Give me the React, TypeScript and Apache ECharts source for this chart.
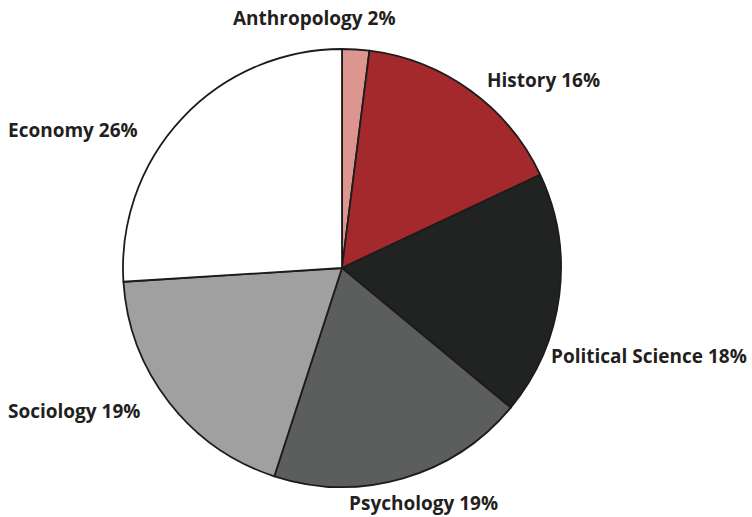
import React, { useEffect, useRef } from "react";
import * as echarts from "echarts";

const categories = ["Anthropology", "History", "Political Science", "Psychology", "Sociology", "Economy"];
const values = [2, 16, 18, 19, 19, 26];
const colors = ["#dc968f", "#a4292d", "#212322", "#5c5e5d", "#a0a0a0", "#ffffff"];
// label anchor (left edge, vertical middle) in px
const labelAnchors: [number, number][] = [
  [233, 18],
  [487, 80],
  [551, 356],
  [349, 503],
  [8, 411],
  [8, 130],
];

export default function App() {
  const ref = useRef<HTMLDivElement>(null);
  useEffect(() => {
    document.body.style.margin = "0";
    const chart = echarts.init(ref.current!, null, { renderer: "svg" });
    chart.setOption({
      animation: false,
      backgroundColor: "#ffffff",
      series: [
        {
          type: "pie",
          center: [342, 268],
          radius: 219,
          startAngle: 90,
          clockwise: true,
          data: categories.map((c, i) => ({
            name: c,
            value: values[i],
            itemStyle: { color: colors[i] },
          })),
          itemStyle: { borderColor: "#1c1c1c", borderWidth: 1.8 },
          label: {
            show: true,
            position: "outside",
            formatter: (p: any) => `${p.name} ${p.value}%`,
            fontFamily: "Open Sans",
            fontWeight: "bold",
            fontSize: 19,
            color: "#231f20",
            overflow: "none",
          },
          labelLine: { show: false },
          labelLayout: (p: any) => ({
            x: labelAnchors[p.dataIndex][0],
            y: labelAnchors[p.dataIndex][1],
            align: "left",
            verticalAlign: "middle",
          }),
          emphasis: { disabled: true },
        },
      ],
    });
    return () => chart.dispose();
  }, []);
  return <div ref={ref} style={{ width: 752, height: 517 }} />;
}
